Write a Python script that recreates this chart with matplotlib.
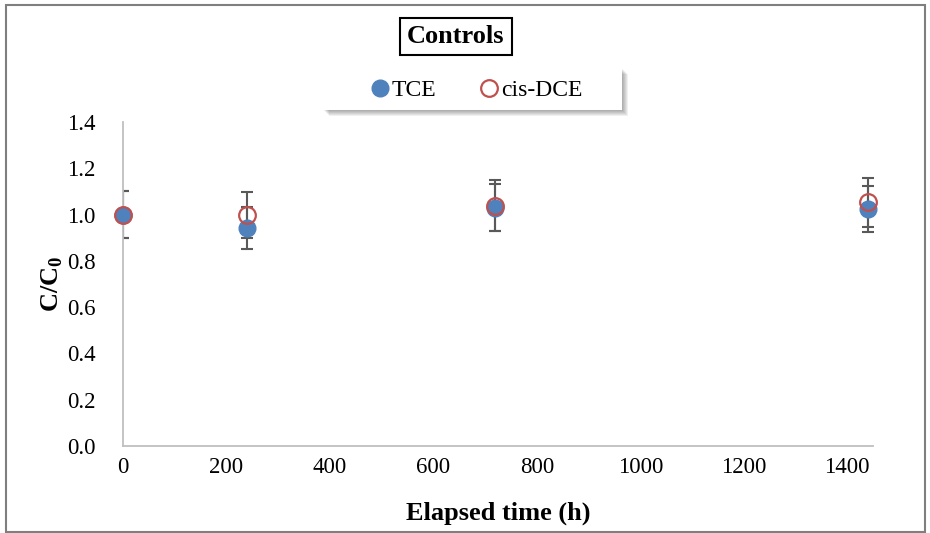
import matplotlib
matplotlib.use('Agg')
import matplotlib.pyplot as plt
from matplotlib.patches import Rectangle

plt.rcParams['font.family'] = ['Liberation Serif', 'DejaVu Serif']
plt.rcParams['mathtext.fontset'] = 'custom'
plt.rcParams['mathtext.rm'] = 'Liberation Serif'
plt.rcParams['mathtext.bf'] = 'Liberation Serif:bold'

# elapsed time (h) and normalised concentrations
time_h = [0, 240, 720, 1440]
tce = [1.00, 0.942, 1.03, 1.023]
tce_err = [0.10, 0.09, 0.10, 0.10]
dce = [1.00, 0.998, 1.038, 1.053]
dce_err = [0.10, 0.10, 0.11, 0.107]

fig = plt.figure(figsize=(9.3, 5.33), dpi=100)
ax = fig.add_axes([0.1323, 0.1632, 0.8064, 0.6079])

errc = '#595959'
ax.errorbar(time_h, tce, yerr=tce_err, fmt='none', ecolor=errc, elinewidth=1.5,
            capsize=4.5, capthick=1.5, zorder=2)
ax.errorbar(time_h, dce, yerr=dce_err, fmt='none', ecolor=errc, elinewidth=1.5,
            capsize=4.5, capthick=1.5, zorder=2)
l1, = ax.plot(time_h, tce, 'o', color='#4F81BD', ms=12, mec='#4F81BD',
              ls='none', clip_on=False, zorder=3, label='TCE')
l2, = ax.plot(time_h, dce, 'o', mfc='none', mec='#C0504D', mew=1.6, ms=12,
              ls='none', clip_on=False, zorder=4, label='cis-DCE')

ax.set_xlim(0, 1450)
ax.set_ylim(0, 1.4)
ax.set_xticks(range(0, 1401, 200))
ax.set_yticks([0.0, 0.2, 0.4, 0.6, 0.8, 1.0, 1.2, 1.4])
ax.yaxis.set_major_formatter(matplotlib.ticker.FormatStrFormatter('%.1f'))
ax.tick_params(length=0, labelsize=16.5, colors='black')
ax.tick_params(axis='y', pad=20)
ax.tick_params(axis='x', pad=8)
for s in ['top', 'right']:
    ax.spines[s].set_visible(False)
for s in ['left', 'bottom']:
    ax.spines[s].set_color('#BFBFBF')
    ax.spines[s].set_linewidth(1.3)

ax.set_xlabel('Elapsed time (h)', fontsize=19, fontweight='bold', labelpad=17)
ax.set_ylabel(r'C/C$_\mathbf{0}$', fontsize=19, fontweight='bold', labelpad=1)

# title box
fig.text(0.490, 0.9315, 'Controls', fontsize=19, fontweight='bold',
         ha='center', va='center',
         bbox=dict(boxstyle='square,pad=0.28', fc='white', ec='black', lw=1.5))

# legend panel with soft shadow
lx0, ly0, lw, lh = 323 / 930, 1 - 110 / 533, 299 / 930, 42 / 533
for i in range(6):
    off = (6 - i)
    fig.patches.append(Rectangle(((323 + off) / 930, 1 - (110 + off) / 533),
                                 lw, lh, transform=fig.transFigure,
                                 fc='black', ec='none', alpha=0.06, zorder=1))
fig.patches.append(Rectangle((lx0, ly0), lw, lh, transform=fig.transFigure,
                             fc='white', ec='none', zorder=2))
fig.legend(handles=[l1, l2], loc='center', bbox_to_anchor=(0.512, 0.831),
           ncol=2, frameon=False, fontsize=17, handlelength=0.8,
           handletextpad=0.1, columnspacing=1.85)

# outer frame
fig.patches.append(Rectangle((6 / 930, 1 - 531.5 / 533), 919 / 930, 526.5 / 533,
                             transform=fig.transFigure, fill=False,
                             ec='#7F7F7F', lw=1.5, zorder=0))

fig.savefig('out.png', dpi=100)
